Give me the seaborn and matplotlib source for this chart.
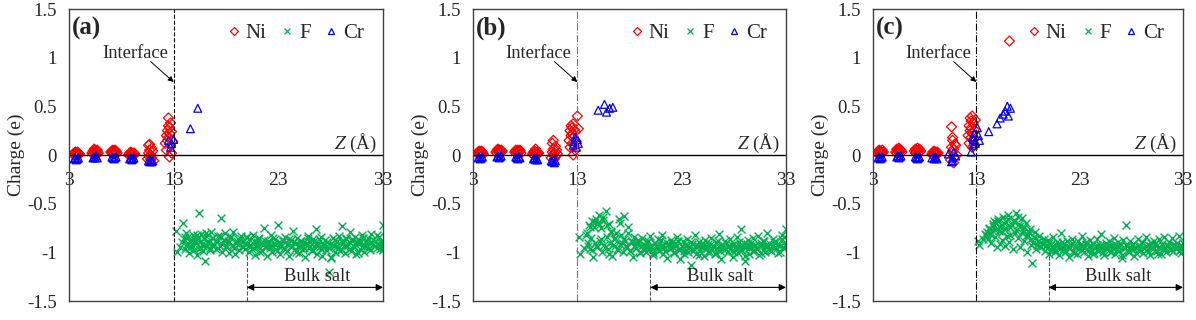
import matplotlib
matplotlib.use("Agg")
import matplotlib.pyplot as plt
import seaborn as sns
from matplotlib.lines import Line2D

# ---- data ----
y_ticks = [-1.5, -1.0, -0.5, 0.0, 0.5, 1.0, 1.5]
y_tick_labels = ["-1.5", "-1", "-0.5", "0", "0.5", "1", "1.5"]
x_ticks = [3, 13, 23, 33]
panel_labels = ["(a)", "(b)", "(c)"]

# Ni layers (shared positions), charge per panel
ni_z = [3.4, 3.5, 3.5, 3.6, 3.6, 3.7, 3.7, 3.8, 3.8, 3.9, 3.9, 4.0,
        5.2, 5.3, 5.3, 5.4, 5.4, 5.5, 5.5, 5.6, 5.6, 5.7, 5.7, 5.8,
        7.0, 7.1, 7.1, 7.2, 7.2, 7.3, 7.3, 7.4, 7.4, 7.5, 7.5, 7.6,
        8.7, 8.8, 8.8, 8.9, 8.9, 9.0, 9.0, 9.1, 9.1, 9.2, 9.2, 9.3,
        10.5, 10.6, 10.6, 10.7, 10.7, 10.7, 10.8, 10.8, 10.9, 10.9, 11.0, 11.1,
        12.2, 12.3, 12.3, 12.4, 12.4, 12.5, 12.5, 12.5, 12.6, 12.6, 12.6, 12.7, 12.7, 12.8, 12.8, 12.9]

ni_q_a = [0.01, 0.02, 0.00, 0.03, 0.01, 0.02, 0.00, 0.03, 0.01, 0.02, 0.00, 0.01,
          0.02, 0.04, 0.01, 0.06, 0.03, 0.02, 0.05, 0.01, 0.04, 0.03, 0.05, 0.02,
          0.03, 0.04, 0.02, 0.05, 0.03, 0.04, 0.02, 0.03, 0.05, 0.04, 0.03, 0.02,
          0.00, 0.02, 0.01, 0.00, 0.03, 0.01, 0.02, 0.00, 0.01, 0.02, 0.00, 0.01,
          -0.04, 0.02, 0.10, -0.02, 0.05, 0.11, -0.05, 0.00, 0.07, -0.03, 0.04, -0.06,
          0.12, 0.20, 0.05, 0.25, 0.15, 0.30, 0.38, 0.18, 0.22, -0.02, 0.28, 0.10, 0.33, 0.24, 0.02, 0.14]
ni_q_b = [0.02, 0.03, 0.01, 0.04, 0.02, 0.03, 0.01, 0.02, 0.04, 0.03, 0.02, 0.01,
          0.03, 0.05, 0.02, 0.06, 0.04, 0.03, 0.05, 0.02, 0.04, 0.05, 0.03, 0.04,
          0.03, 0.05, 0.02, 0.04, 0.03, 0.05, 0.02, 0.04, 0.03, 0.04, 0.05, 0.02,
          0.01, 0.03, 0.00, 0.02, 0.04, 0.01, 0.06, 0.00, 0.02, 0.03, 0.01, 0.02,
          -0.03, 0.03, 0.12, 0.00, 0.06, 0.15, -0.04, 0.02, 0.09, -0.02, 0.05, 0.01,
          0.15, 0.25, 0.08, 0.30, 0.20, 0.28, 0.12, 0.22, 0.32, 0.00, 0.18, 0.26, 0.10, 0.24, 0.05, 0.14]
ni_q_c = [0.02, 0.04, 0.01, 0.05, 0.03, 0.02, 0.04, 0.01, 0.03, 0.05, 0.02, 0.03,
          0.03, 0.06, 0.02, 0.05, 0.04, 0.07, 0.03, 0.05, 0.06, 0.04, 0.05, 0.03,
          0.04, 0.06, 0.02, 0.05, 0.03, 0.07, 0.04, 0.02, 0.05, 0.06, 0.03, 0.04,
          0.01, 0.03, 0.00, 0.04, 0.02, 0.01, 0.03, 0.00, 0.02, 0.03, 0.01, 0.02,
          -0.05, 0.08, 0.29, 0.03, 0.15, 0.18, -0.08, 0.06, 0.11, -0.02, 0.10, 0.00,
          0.20, 0.30, 0.12, 0.38, 0.25, 0.35, 0.18, 0.28, 0.40, 0.08, 0.22, 0.33, 0.15, 0.26, 0.10, 0.36]

# Ni atoms outside the layers
ni_extra_z_a, ni_extra_q_a = [], []
ni_extra_z_b, ni_extra_q_b = [13.0, 13.1], [0.40, 0.27]
ni_extra_z_c, ni_extra_q_c = [16.2], [1.17]

# Cr atoms
cr_z_a = [3.5, 3.6, 3.7, 3.8, 3.9, 5.3, 5.4, 5.5, 5.6, 5.7, 7.1, 7.2, 7.3, 7.4, 7.5,
          8.8, 8.9, 9.0, 9.1, 9.2, 10.6, 10.7, 10.8, 10.9, 11.0,
          12.5, 12.7, 12.8, 13.0, 14.6, 15.3]
cr_q_a = [-0.04, -0.03, -0.05, -0.04, -0.03, -0.03, -0.02, -0.03, -0.01, -0.03,
          -0.02, -0.03, -0.04, -0.03, -0.02, -0.04, -0.03, -0.05, -0.04, -0.03,
          -0.06, -0.07, -0.05, -0.07, -0.06,
          0.15, 0.08, 0.12, 0.16, 0.27, 0.48]
cr_z_b = [3.5, 3.6, 3.7, 3.8, 3.9, 5.3, 5.4, 5.5, 5.6, 5.7, 7.1, 7.2, 7.3, 7.4, 7.5,
          8.8, 8.9, 9.0, 9.1, 9.2, 10.5, 10.6, 10.7, 10.8, 10.9,
          12.6, 12.7, 12.8, 12.9, 13.0, 13.1, 15.0, 15.6, 15.8, 16.1, 16.4]
cr_q_b = [-0.03, -0.02, -0.04, -0.03, -0.02, -0.02, -0.01, -0.03, -0.02, -0.01,
          -0.02, -0.03, -0.04, -0.02, -0.03, -0.04, -0.03, -0.05, -0.04, -0.05,
          -0.06, -0.07, -0.05, -0.08, -0.06,
          0.10, 0.14, 0.18, 0.08, 0.16, 0.12, 0.46, 0.52, 0.44, 0.48, 0.49]
cr_z_c = [3.5, 3.6, 3.7, 3.8, 3.9, 5.3, 5.4, 5.5, 5.6, 5.7, 7.1, 7.2, 7.3, 7.4, 7.5,
          8.7, 8.9, 9.0, 9.1, 9.2, 10.3, 10.6, 10.7, 10.8, 11.0, 10.7,
          12.5, 12.6, 12.7, 12.8, 12.9, 13.1, 13.2, 13.3, 12.9, 12.7,
          14.2, 15.0, 15.3, 15.6, 15.8, 16.0, 16.1, 16.3]
cr_q_c = [-0.03, -0.02, -0.04, -0.03, -0.02, -0.02, -0.01, -0.03, -0.02, -0.01,
          -0.02, -0.03, -0.04, -0.03, -0.02, -0.03, -0.04, -0.02, -0.03, -0.04,
          0.01, -0.07, -0.03, 0.03, -0.01, -0.06,
          0.03, 0.18, 0.10, 0.22, 0.14, 0.28, 0.20, 0.15, 0.12, 0.16,
          0.24, 0.32, 0.38, 0.42, 0.45, 0.50, 0.40, 0.48]

# F atoms (two sets of shared positions), charge per panel
f_z = [13.2, 13.3, 13.9, 14.0, 14.1, 14.2, 14.3, 14.4, 14.5, 14.6,
       14.7, 14.8, 14.9, 15.0, 15.1, 15.2, 15.3, 15.4, 15.5, 15.6,
       15.7, 15.8, 15.9, 16.0, 16.1, 16.2, 16.3, 16.5, 16.6, 16.7,
       16.8, 17.0, 17.1, 17.2, 17.4, 17.5, 17.6, 17.8, 17.9, 18.0,
       18.2, 18.3, 18.4, 18.6, 18.7, 18.8, 19.0, 19.1, 19.2, 19.4,
       19.5, 19.6, 19.8, 19.9, 20.0, 20.2, 20.3, 20.4, 20.6, 20.7,
       20.8, 21.0, 21.1, 21.2, 21.4, 21.5, 21.6, 21.8, 21.9, 22.0,
       22.2, 22.3, 22.4, 22.6, 22.7, 22.8, 23.0, 23.1, 23.2, 23.4,
       23.5, 23.6, 23.8, 23.9, 24.0, 24.2, 24.3, 24.4, 24.6, 24.7,
       24.8, 25.0, 25.1, 25.2, 25.4, 25.5, 25.6, 25.8, 25.9, 26.0,
       26.2, 26.3, 26.4, 26.6, 26.7, 26.8, 27.0, 27.1, 27.2, 27.4,
       27.5, 27.6, 27.8, 27.9, 28.0, 28.2, 28.3, 28.4, 28.6, 28.7,
       28.8, 29.0, 29.1, 29.2, 29.4, 29.5, 29.6, 29.8, 29.9, 30.0,
       30.2, 30.3, 30.4, 30.6, 30.7, 30.8, 31.0, 31.1, 31.2, 31.4,
       31.5, 31.6, 31.8, 31.9, 32.0, 32.2, 32.4, 32.6, 32.8, 33.0]
f_z2 = [13.6, 13.8, 14.05, 14.25, 14.45, 14.65, 14.85, 15.05, 15.25, 15.45,
        15.65, 15.85, 16.05, 16.25, 16.45, 16.65, 16.85, 17.05, 17.25, 17.45,
        17.65, 17.85, 18.05, 18.25, 18.45, 18.65, 18.85, 19.05, 19.25, 19.45,
        19.65, 19.85, 20.05, 20.25, 20.45, 20.65, 20.85, 21.05, 21.25, 21.45,
        21.65, 21.85, 22.05, 22.25, 22.45, 22.65, 22.85, 23.05, 23.25, 23.45,
        23.65, 23.85, 24.05, 24.25, 24.45, 24.65, 24.85, 25.05, 25.25, 25.45,
        25.65, 25.85, 26.05, 26.25, 26.45, 26.65, 26.85, 27.05, 27.25, 27.45,
        27.65, 27.85, 28.05, 28.25, 28.45, 28.65, 28.85, 29.05, 29.25, 29.45,
        29.65, 29.85, 30.05, 30.25, 30.45, 30.65, 30.85, 31.05, 31.25, 31.45,
        31.65, 31.85, 32.05, 32.25, 32.45, 32.6, 32.7, 32.8, 32.9, 33.0]

f_q_a = [-0.78, -1.00, -0.70, -0.86, -0.97, -0.80, -0.92, -0.84, -1.01, -0.88,
         -0.93, -0.82, -0.98, -0.87, -0.90, -1.03, -0.85, -0.60, -0.95, -0.81,
         -0.91, -0.99, -0.86, -1.09, -0.83, -0.94, -0.88, -0.96, -0.79, -0.92,
         -0.85, -0.97, -0.89, -0.83, -0.93, -0.65, -1.00, -0.87, -0.80, -0.94,
         -0.88, -1.01, -0.84, -0.92, -0.79, -0.96, -0.90, -0.86, -0.98, -0.83,
         -0.93, -0.89, -0.97, -0.84, -0.91, -1.00, -0.87, -0.94, -0.82, -0.96,
         -1.03, -0.89, -0.93, -0.85, -0.99, -0.92, -0.75, -0.95, -1.04, -0.88,
         -0.94, -0.82, -1.00, -0.90, -0.86, -0.97, -0.72, -0.93, -1.02, -0.88,
         -0.96, -0.84, -0.99, -0.91, -1.04, -0.87, -0.93, -0.78, -0.97, -0.90,
         -0.85, -1.01, -0.94, -0.88, -0.98, -1.05, -0.91, -0.83, -0.96, -0.89,
         -0.99, -0.86, -0.93, -0.76, -1.02, -0.90, -0.95, -0.84, -1.04, -0.92,
         -0.87, -0.98, -1.20, -0.91, -1.05, -0.85, -0.94, -1.00, -0.88, -0.96,
         -0.83, -0.97, -0.73, -0.90, -1.01, -0.86, -0.93, -0.79, -0.99, -0.88,
         -0.95, -0.84, -1.02, -0.90, -0.87, -0.97, -0.82, -0.93, -1.00, -0.89,
         -0.94, -0.85, -0.98, -0.81, -0.92, -0.88, -0.96, -0.84, -0.90, -0.72]
f_q2_a = [-0.95, -0.89, -0.84, -0.91, -0.96, -0.87, -0.93, -0.89, -0.82, -0.97,
          -0.88, -0.94, -0.80, -0.90, -0.98, -0.85, -0.92, -0.88, -0.96, -0.83,
          -0.91, -0.87, -0.95, -0.89, -0.84, -0.93, -1.02, -0.88, -0.91, -0.86,
          -0.95, -0.90, -0.84, -0.92, -0.97, -0.88, -0.93, -0.86, -1.00, -0.91,
          -0.87, -0.94, -0.90, -0.96, -0.85, -0.92, -0.99, -0.89, -0.94, -0.87,
          -0.97, -0.91, -0.86, -0.93, -0.89, -1.00, -0.95, -0.88, -0.92, -0.96,
          -0.90, -0.85, -0.94, -0.98, -0.88, -0.93, -0.86, -0.97, -0.91, -0.95,
          -0.89, -0.96, -1.06, -0.92, -0.87, -0.94, -0.99, -0.88, -0.93, -0.85,
          -0.91, -0.97, -0.86, -0.94, -0.89, -1.01, -0.90, -0.85, -0.93, -0.88,
          -0.96, -0.90, -0.87, -0.94, -0.82, -0.91, -0.97, -0.88, -0.93, -0.98]
f_q_b = [-0.84, -1.02, -0.80, -0.93, -0.72, -0.97, -0.85, -0.68, -1.05, -0.74,
         -0.90, -0.66, -0.95, -0.70, -0.62, -0.88, -0.75, -1.00, -0.64, -0.92,
         -0.58, -0.84, -0.97, -0.71, -0.90, -0.78, -1.04, -0.86, -0.93, -0.80,
         -0.97, -0.66, -0.91, -0.82, -1.00, -0.63, -0.88, -0.95, -0.74, -0.99,
         -0.89, -1.05, -0.84, -0.96, -0.91, -0.87, -1.01, -0.93, -0.85, -0.98,
         -0.92, -1.00, -0.88, -0.95, -0.83, -0.97, -1.03, -0.90, -0.94, -0.86,
         -0.99, -0.93, -0.82, -1.02, -0.95, -0.89, -1.06, -0.91, -0.97, -0.87,
         -0.95, -1.01, -0.90, -0.84, -0.98, -1.07, -0.93, -0.88, -0.99, -0.94,
         -0.86, -1.00, -0.95, -1.13, -0.91, -0.97, -0.82, -1.02, -0.93, -0.89,
         -0.99, -0.94, -1.04, -0.87, -0.96, -0.91, -1.01, -0.85, -0.97, -0.93,
         -1.02, -0.89, -0.96, -0.81, -0.99, -1.07, -0.92, -0.95, -0.88, -1.00,
         -0.94, -0.86, -0.99, -1.05, -0.91, -0.97, -0.84, -1.01, -0.93, -0.76,
         -0.98, -0.90, -1.09, -0.95, -0.87, -1.02, -0.93, -0.85, -0.99, -0.92,
         -0.96, -0.83, -1.03, -0.90, -0.94, -0.88, -1.00, -0.92, -0.80, -0.97,
         -0.91, -0.99, -0.86, -0.95, -0.89, -1.01, -0.93, -0.82, -0.96, -0.76]
f_q2_b = [-0.96, -0.82, -0.90, -0.74, -0.98, -0.69, -0.93, -0.72, -0.86, -0.67,
          -0.95, -0.72, -1.02, -0.79, -0.92, -0.85, -0.98, -0.70, -0.90, -0.86,
          -0.94, -0.80, -0.99, -0.88, -0.93, -0.96, -0.90, -1.00, -0.92, -0.95,
          -0.89, -0.97, -0.93, -1.01, -0.90, -0.95, -0.98, -0.87, -0.94, -0.99,
          -0.92, -0.96, -0.90, -1.00, -0.94, -0.88, -0.97, -0.93, -1.02, -0.91,
          -0.96, -0.89, -0.99, -0.94, -0.92, -1.03, -0.95, -0.90, -0.97, -0.93,
          -0.99, -0.91, -0.95, -1.01, -0.88, -0.96, -0.93, -0.98, -0.90, -0.94,
          -0.97, -0.92, -1.00, -0.95, -0.89, -0.98, -0.93, -1.04, -0.91, -0.96,
          -0.90, -0.99, -0.94, -0.97, -0.92, -1.01, -0.88, -0.95, -0.93, -0.98,
          -0.94, -0.89, -0.97, -0.92, -1.00, -0.86, -0.95, -0.90, -0.84, -0.93]
f_q_c = [-0.88, -0.92, -0.82, -0.79, -0.86, -0.75, -0.81, -0.90, -0.77, -0.73,
         -0.68, -0.84, -0.70, -0.95, -0.66, -0.78, -0.91, -0.72, -0.87, -0.64,
         -0.76, -0.93, -0.69, -0.83, -0.62, -0.89, -0.74, -0.97, -0.67, -0.80,
         -0.60, -0.85, -0.71, -0.95, -0.65, -0.78, -0.88, -0.70, -1.00, -0.82,
         -0.76, -0.92, -1.11, -0.84, -0.79, -0.97, -0.88, -0.83, -0.94, -0.90,
         -0.86, -0.99, -0.92, -0.87, -1.02, -0.91, -0.95, -0.84, -0.98, -0.93,
         -0.89, -1.03, -0.94, -0.80, -0.97, -0.91, -1.00, -0.88, -0.95, -1.05,
         -0.92, -0.86, -0.99, -0.94, -1.02, -0.88, -0.96, -0.91, -0.83, -1.00,
         -0.95, -0.89, -1.04, -0.93, -0.87, -0.98, -0.91, -1.01, -0.94, -0.86,
         -0.99, -0.92, -0.81, -0.96, -1.03, -0.90, -0.95, -0.88, -1.00, -0.93,
         -0.97, -0.85, -1.02, -0.94, -0.89, -0.99, -0.92, -1.06, -0.87, -0.96,
         -0.72, -0.93, -1.00, -0.88, -0.97, -0.91, -1.04, -0.95, -0.86, -0.99,
         -0.93, -0.89, -1.01, -0.96, -0.84, -0.98, -0.92, -1.03, -0.90, -0.95,
         -0.88, -0.99, -0.93, -1.02, -0.86, -0.96, -0.91, -0.97, -0.84, -1.00,
         -0.94, -0.89, -0.97, -0.85, -0.99, -0.92, -0.96, -0.83, -1.01, -0.90]
f_q2_c = [-0.86, -0.81, -0.84, -0.76, -0.80, -0.71, -0.77, -0.68, -0.74, -0.79,
          -0.70, -0.75, -0.66, -0.82, -0.72, -0.69, -0.77, -0.64, -0.73, -0.80,
          -0.74, -0.83, -0.79, -0.86, -0.90, -0.85, -0.92, -0.88, -0.95, -0.91,
          -0.93, -0.96, -0.90, -0.98, -0.94, -1.00, -0.92, -0.97, -0.89, -0.95,
          -0.99, -0.93, -0.96, -0.90, -1.01, -0.94, -0.97, -0.92, -0.98, -0.95,
          -0.91, -0.99, -0.94, -1.02, -0.96, -0.92, -0.98, -0.93, -1.00, -0.95,
          -0.97, -0.93, -1.00, -0.95, -0.91, -0.98, -0.94, -1.03, -0.96, -0.92,
          -0.99, -0.95, -0.92, -0.97, -1.01, -0.94, -0.98, -0.90, -0.96, -0.93,
          -1.00, -0.94, -0.97, -0.91, -0.99, -0.95, -1.02, -0.93, -0.96, -0.92,
          -0.95, -0.98, -0.92, -0.96, -0.90, -0.99, -0.94, -0.97, -0.93, -0.96]

interface_z = 13
bulk_start_z = 20
bulk_end_z = 33

NI_COLOR = "#ff0000"
F_COLOR = "#00b050"
CR_COLOR = "#0000ff"

sns.set_style("white")
plt.rcParams["font.family"] = ["Liberation Serif", "DejaVu Serif"]
plt.rcParams["mathtext.fontset"] = "stix"


def draw_panel(ax, label, ni_q, ni_ez, ni_eq, cr_z, cr_q, f_q, f_q2, iface_ls, iface_color):
    sns.scatterplot(x=f_z + f_z2, y=f_q + f_q2, ax=ax, marker="x", color=F_COLOR,
                    s=32, linewidth=1.0)
    sns.scatterplot(x=ni_z + ni_ez, y=ni_q + ni_eq, ax=ax, marker="D", s=26,
                    facecolor="none", edgecolor=NI_COLOR, linewidth=0.9)
    sns.scatterplot(x=cr_z, y=cr_q, ax=ax, marker="^", s=32,
                    facecolor="none", edgecolor=CR_COLOR, linewidth=0.9)

    ax.set_xlim(3, 33)
    ax.set_ylim(-1.5, 1.5)
    ax.set_xticks([])
    ax.set_yticks(y_ticks)
    ax.set_yticklabels(y_tick_labels, fontsize=13.5)
    ax.tick_params(axis="y", direction="in", length=4, pad=9, color="#404040")
    ax.set_ylabel("Charge (e)", fontsize=14, labelpad=1)
    for sp in ax.spines.values():
        sp.set_color("#404040")
        sp.set_linewidth(1.0)

    # zero line carries the Z axis with its tick labels
    ax.axhline(0, color="black", lw=1.0)
    sec = ax.secondary_xaxis(0.5)
    sec.xaxis.set_ticks_position("bottom")
    sec.set_xticks(x_ticks)
    sec.set_xticklabels([str(t) for t in x_ticks], fontsize=14)
    sec.tick_params(axis="x", length=0, pad=12)
    for sp in sec.spines.values():
        sp.set_visible(False)

    ax.axvline(interface_z, color=iface_color, ls=iface_ls, lw=0.8)
    ax.plot([bulk_start_z, bulk_start_z], [-1.5, -1.0], color="#555555", ls="--", lw=0.8)

    ax.text(9.3, 1.04, "Interface", fontsize=13.3, ha="center", va="center")
    ax.annotate("", xy=(interface_z, 0.75), xytext=(10.8, 0.96),
                arrowprops=dict(arrowstyle="-|>", color="black", lw=0.7,
                                mutation_scale=8, shrinkA=0, shrinkB=0))
    ax.text(26.7, -1.25, "Bulk salt", fontsize=13.3, ha="center", va="center")
    ax.annotate("", xy=(bulk_end_z, -1.36), xytext=(bulk_start_z, -1.36),
                arrowprops=dict(arrowstyle="<|-|>", color="black", lw=0.8,
                                mutation_scale=10, shrinkA=0, shrinkB=0))
    ax.text(32.4, 0.12, "$Z$ (Å)", fontsize=13.5, ha="right", va="center")
    ax.text(0.01, 0.935, label, transform=ax.transAxes, fontsize=18,
            fontweight="bold", ha="left", va="center")

    handles = [
        Line2D([], [], ls="none", marker="D", ms=3.8, mfc="none", mec=NI_COLOR, mew=0.9),
        Line2D([], [], ls="none", marker="x", ms=4.5, color=F_COLOR, mew=0.9),
        Line2D([], [], ls="none", marker="^", ms=4.5, mfc="none", mec=CR_COLOR, mew=0.9),
    ]
    ax.legend(handles, ["Ni", "F", "Cr"], ncol=3, loc="upper right", frameon=False,
              fontsize=15, handletextpad=0.25, columnspacing=0.7, handlelength=0.6,
              borderaxespad=0.3, bbox_to_anchor=(0.985, 1.0))


fig = plt.figure(figsize=(11.96, 3.2), dpi=100)
axes = [
    fig.add_axes([69 / 1196, 19 / 320, 314 / 1196, 292 / 320]),
    fig.add_axes([473 / 1196, 19 / 320, 313 / 1196, 292 / 320]),
    fig.add_axes([873 / 1196, 19 / 320, 310 / 1196, 292 / 320]),
]

draw_panel(axes[0], panel_labels[0], ni_q_a, ni_extra_z_a, ni_extra_q_a,
           cr_z_a, cr_q_a, f_q_a, f_q2_a, "--", "black")
draw_panel(axes[1], panel_labels[1], ni_q_b, ni_extra_z_b, ni_extra_q_b,
           cr_z_b, cr_q_b, f_q_b, f_q2_b, "-.", "#777777")
draw_panel(axes[2], panel_labels[2], ni_q_c, ni_extra_z_c, ni_extra_q_c,
           cr_z_c, cr_q_c, f_q_c, f_q2_c, "-.", "black")

fig.savefig("out.png", dpi=100)
